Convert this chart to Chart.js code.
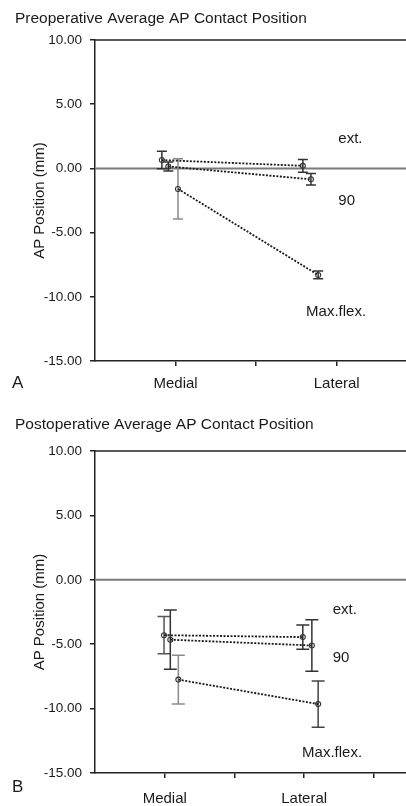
<!DOCTYPE html>
<html>
<head>
<meta charset="utf-8">
<script src="https://cdn.jsdelivr.net/npm/chart.js@4.4.0/dist/chart.umd.min.js"></script>
<style>
  html, body { margin: 0; padding: 0; background: #fff; overflow: hidden; }
  #wrap { position: relative; width: 406px; height: 806px; }
  canvas { position: absolute; left: 0; }
</style>
</head>
<body>
<div id="wrap">
  <canvas id="pre" width="406" height="400" style="top:0"></canvas>
  <canvas id="post" width="406" height="406" style="top:400px"></canvas>
</div>
<script>
// Knee positions and condyle sides
var seriesNames = ['ext.', '90', 'Max.flex.'];
var sideNames = ['Medial', 'Lateral'];
var yTickValues = [-15, -10, -5, 0, 5, 10];

// Preoperative mean AP position (mm), medial then lateral
var preExt = [0.65, 0.2];
var pre90 = [0.15, -0.85];
var preMax = [-1.6, -8.3];
// Preoperative error bar half-widths (mm)
var preExtErr = [0.68, 0.5];
var pre90Err = [0.35, 0.45];
var preMaxErr = [2.35, 0.3];

// Postoperative mean AP position (mm)
var postExt = [-4.3, -4.45];
var post90 = [-4.65, -5.1];
var postMax = [-7.75, -9.65];
// Postoperative error bar half-widths (mm)
var postExtErr = [1.45, 0.95];
var post90Err = [2.3, 2.0];
var postMaxErr = [1.9, 1.8];

var FONT = "'Liberation Sans', Arial, Helvetica, sans-serif";
var INK = '#1a1a1a';

// frame, zero line, error bars and text around each panel
var panelDecor = {
    id: 'panelDecor',
    beforeDatasetsDraw: function(chart) {
        var ctx = chart.ctx, a = chart.chartArea;
        var xs = chart.scales.x, ys = chart.scales.y;
        var p = chart.options.plugins.panelDecor;
        ctx.save();

        // reference line at 0
        var y0 = ys.getPixelForValue(0);
        ctx.strokeStyle = '#7a7a7a';
        ctx.lineWidth = 2;
        ctx.beginPath();
        ctx.moveTo(a.left, y0);
        ctx.lineTo(a.right, y0);
        ctx.stroke();

        // top frame line
        ctx.strokeStyle = '#222';
        ctx.lineWidth = 1.5;
        ctx.beginPath();
        ctx.moveTo(a.left, a.top);
        ctx.lineTo(a.right, a.top);
        ctx.stroke();

        // error bars
        chart.data.datasets.forEach(function(ds) {
            ds.data.forEach(function(pt, i) {
                var px = xs.getPixelForValue(pt.x);
                var top = ys.getPixelForValue(pt.y + ds.err[i]);
                var bot = ys.getPixelForValue(pt.y - ds.err[i]);
                ctx.strokeStyle = ds.errColor[i];
                ctx.lineWidth = 1.5;
                ctx.beginPath();
                ctx.moveTo(px, top); ctx.lineTo(px, bot);
                ctx.moveTo(px - p.cap, top); ctx.lineTo(px + p.cap, top);
                ctx.moveTo(px - p.cap, bot); ctx.lineTo(px + p.cap, bot);
                ctx.stroke();
            });
        });
        ctx.restore();
    },
    afterDraw: function(chart) {
        var ctx = chart.ctx, a = chart.chartArea;
        var xs = chart.scales.x, ys = chart.scales.y;
        var p = chart.options.plugins.panelDecor;
        ctx.save();
        ctx.fillStyle = INK;
        ctx.textBaseline = 'alphabetic';
        ctx.textAlign = 'left';

        ctx.font = '15.5px ' + FONT;
        ctx.fillText(p.title, 15, p.titleY);

        ctx.font = '17px ' + FONT;
        ctx.fillText(p.letter, 12, p.letterY);

        // series names beside the lines
        ctx.font = '15px ' + FONT;
        p.names.forEach(function(n, i) {
            var at = p.namePos[i];
            ctx.fillText(n, xs.getPixelForValue(at[0]), ys.getPixelForValue(at[1]));
        });

        // y axis title
        ctx.translate(40, (a.top + a.bottom) / 2);
        ctx.rotate(-Math.PI / 2);
        ctx.textAlign = 'center';
        ctx.textBaseline = 'middle';
        ctx.font = '15px ' + FONT;
        ctx.fillText('AP Position (mm)', 0, 0);
        ctx.restore();
    }
};

function makeSeries(xPos, values, errs, errColor) {
    return {
        data: values.map(function(v, i) { return { x: xPos[i], y: v }; }),
        err: errs,
        errColor: errColor,
        showLine: true,
        borderColor: '#1a1a1a',
        borderWidth: 1.8,
        borderDash: [2, 1.5],
        pointRadius: 2.5,
        pointBorderWidth: 1.1,
        pointBorderColor: '#333',
        pointBackgroundColor: 'rgba(0,0,0,0)'
    };
}

function buildPanel(id, cfg) {
    return new Chart(document.getElementById(id), {
        type: 'scatter',
        data: { datasets: cfg.datasets },
        options: {
            responsive: false,
            animation: false,
            layout: { autoPadding: false, padding: { top: cfg.top, left: 0, right: 0, bottom: 0 } },
            plugins: {
                legend: { display: false },
                tooltip: { enabled: false },
                panelDecor: cfg.decor
            },
            scales: {
                x: {
                    type: 'linear',
                    min: 0,
                    max: cfg.xMax,
                    afterBuildTicks: function(s) {
                        s.ticks = cfg.xTicks.map(function(v) { return { value: v }; });
                    },
                    afterFit: function(s) { s.height = cfg.xAxisHeight; },
                    ticks: {
                        autoSkip: false,
                        maxRotation: 0,
                        padding: cfg.xPad,
                        color: INK,
                        font: { family: FONT, size: 15 },
                        callback: function(v) {
                            if (v === 1) return sideNames[0];
                            if (v === 3) return sideNames[1];
                            return '';
                        }
                    },
                    grid: { drawOnChartArea: false, tickLength: 5, color: '#222', lineWidth: 1.5 },
                    border: { display: true, color: '#222', width: 1.5 }
                },
                y: {
                    min: -15,
                    max: 10,
                    afterBuildTicks: function(s) {
                        s.ticks = yTickValues.map(function(v) { return { value: v }; });
                    },
                    afterFit: function(s) { s.width = 95; },
                    ticks: {
                        padding: 8,
                        color: INK,
                        font: { family: FONT, size: 13.5 },
                        callback: function(v) { return v.toFixed(2); }
                    },
                    grid: { drawOnChartArea: false, tickLength: 5, color: '#222', lineWidth: 1.5 },
                    border: { display: true, color: '#222', width: 1.5 }
                }
            }
        },
        plugins: [panelDecor]
    });
}

var dark = '#333', light = '#8a8a8a';

// Preoperative panel
buildPanel('pre', {
    top: 40,
    xMax: 3.86,
    xTicks: [1, 2, 3],
    xAxisHeight: 39,
    xPad: 9,
    datasets: [
        makeSeries([0.83, 2.58], preExt, preExtErr, [dark, dark]),
        makeSeries([0.91, 2.68], pre90, pre90Err, [dark, dark]),
        makeSeries([1.03, 2.77], preMax, preMaxErr, [light, dark])
    ],
    decor: {
        title: 'Preoperative Average AP Contact Position',
        titleY: 23,
        letter: 'A',
        letterY: 388,
        cap: 5,
        names: seriesNames,
        namePos: [[3.02, 2.0], [3.02, -2.86], [2.62, -11.5]]
    }
});

// Postoperative panel
buildPanel('post', {
    top: 51,
    xMax: 4.46,
    xTicks: [1, 2, 3, 4],
    xAxisHeight: 33,
    xPad: 12,
    datasets: [
        makeSeries([0.99, 2.98], postExt, postExtErr, ['#555', dark]),
        makeSeries([1.08, 3.11], post90, post90Err, [dark, dark]),
        makeSeries([1.195, 3.2], postMax, postMaxErr, [light, '#444'])
    ],
    decor: {
        title: 'Postoperative Average AP Contact Position',
        titleY: 29,
        letter: 'B',
        letterY: 391.5,
        cap: 6.5,
        names: seriesNames,
        namePos: [[3.41, -2.64], [3.41, -6.37], [2.97, -13.75]]
    }
});
</script>
</body>
</html>
